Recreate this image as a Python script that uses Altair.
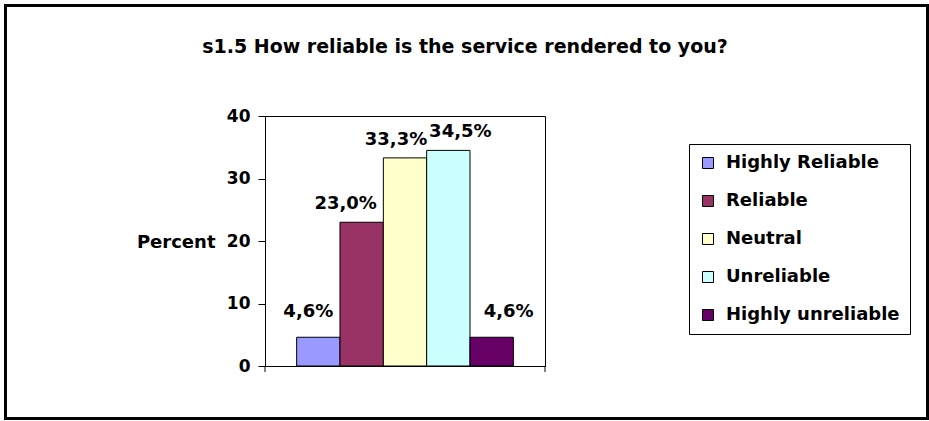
import altair as alt
import pandas as pd

categories = ["Highly Reliable", "Reliable", "Neutral", "Unreliable", "Highly unreliable"]
values = [4.6, 23.0, 33.3, 34.5, 4.6]
colors = ["#9999FF", "#993366", "#FFFFCC", "#CCFFFF", "#660066"]
y_ticks = [0, 10, 20, 30, 40]

labels = [f"{v:.1f}".replace(".", ",") + "%" for v in values]
df = pd.DataFrame({"category": categories, "value": values, "label": labels})

FONT = "DejaVu Sans"

x_enc = alt.X(
    "category:N",
    sort=categories,
    scale=alt.Scale(paddingInner=0, paddingOuter=0.73),
    axis=alt.Axis(labels=False, ticks=False, title=None, domainColor="black", domainWidth=1),
)
y_enc = alt.Y(
    "value:Q",
    scale=alt.Scale(domain=[0, 40], nice=False),
    axis=alt.Axis(
        values=y_ticks,
        grid=False,
        title="Percent",
        titleAngle=0,
        titleAlign="right",
        titleBaseline="alphabetic",
        titleX=-50,
        titleY=131,
        titleFont=FONT,
        titleFontSize=18,
        titleFontWeight="bold",
        titleColor="black",
        labelFont=FONT,
        labelFontSize=17,
        labelFontWeight="bold",
        labelColor="black",
        labelPadding=8,
        tickSize=7,
        tickColor="black",
        domainColor="black",
    ),
)

base = alt.Chart(df)

bars = base.mark_bar(stroke="black", strokeWidth=1, opacity=1).encode(
    x=x_enc,
    y=y_enc,
    color=alt.Color(
        "category:N",
        sort=categories,
        scale=alt.Scale(domain=categories, range=colors),
        legend=alt.Legend(
            title=None,
            orient="none",
            legendX=424,
            legendY=28,
            strokeColor="black",
            fillColor="white",
            padding=10,
            symbolType="square",
            symbolSize=121,
            symbolStrokeColor="black",
            symbolStrokeWidth=1,
            symbolOpacity=1,
            labelFont=FONT,
            labelFontSize=18,
            labelFontWeight="bold",
            labelColor="black",
            labelOffset=9,
            rowPadding=20,
            labelLimit=300,
        ),
    ),
)

# Label nudges (Excel places overlapping labels apart), applied as mark styles
label_style = {
    "Highly Reliable": (-10, -20),
    "Reliable": (-16, -13),
    "Neutral": (-9, -13),
    "Unreliable": (12, -13),
    "Highly unreliable": (17, -20),
}
text_layers = []
for cat in categories:
    ddx, ddy = label_style[cat]
    text_layers.append(
        base.transform_filter(alt.datum.category == cat)
        .mark_text(
            font=FONT, fontSize=18, fontWeight="bold", baseline="alphabetic",
            dx=ddx, dy=ddy, color="black",
        )
        .encode(x=x_enc, y=y_enc, text="label:N")
    )

deco = alt.Chart(pd.DataFrame({"d": [0]}))
border = deco.mark_rect(filled=False, stroke="black", strokeWidth=3).encode(
    x=alt.value(-259.5), x2=alt.value(662.5), y=alt.value(-110.5), y2=alt.value(302.5)
)
tick_l = deco.mark_rule(color="black").encode(
    x=alt.value(0), y=alt.value(250), y2=alt.value(256)
)
tick_r = deco.mark_rule(color="black").encode(
    x=alt.value(280), y=alt.value(250), y2=alt.value(256)
)

chart = (
    alt.layer(bars, *text_layers, border, tick_l, tick_r)
    .properties(
        width=280,
        height=250,
        title=alt.Title(
            "s1.5 How reliable is the service rendered to you?",
            font=FONT,
            fontSize=19,
            fontWeight="bold",
            color="black",
            anchor="middle",
            frame="group",
            dx=60,
            offset=-68,
            baseline="alphabetic",
        ),
        autosize=alt.AutoSizeParams(type="none"),
        padding={"left": 265, "top": 116, "right": 384, "bottom": 55},
        background="white",
    )
    .configure_view(stroke="black", strokeWidth=1)
)

chart.save("out.html", embed_options={"renderer": "svg", "actions": False})
